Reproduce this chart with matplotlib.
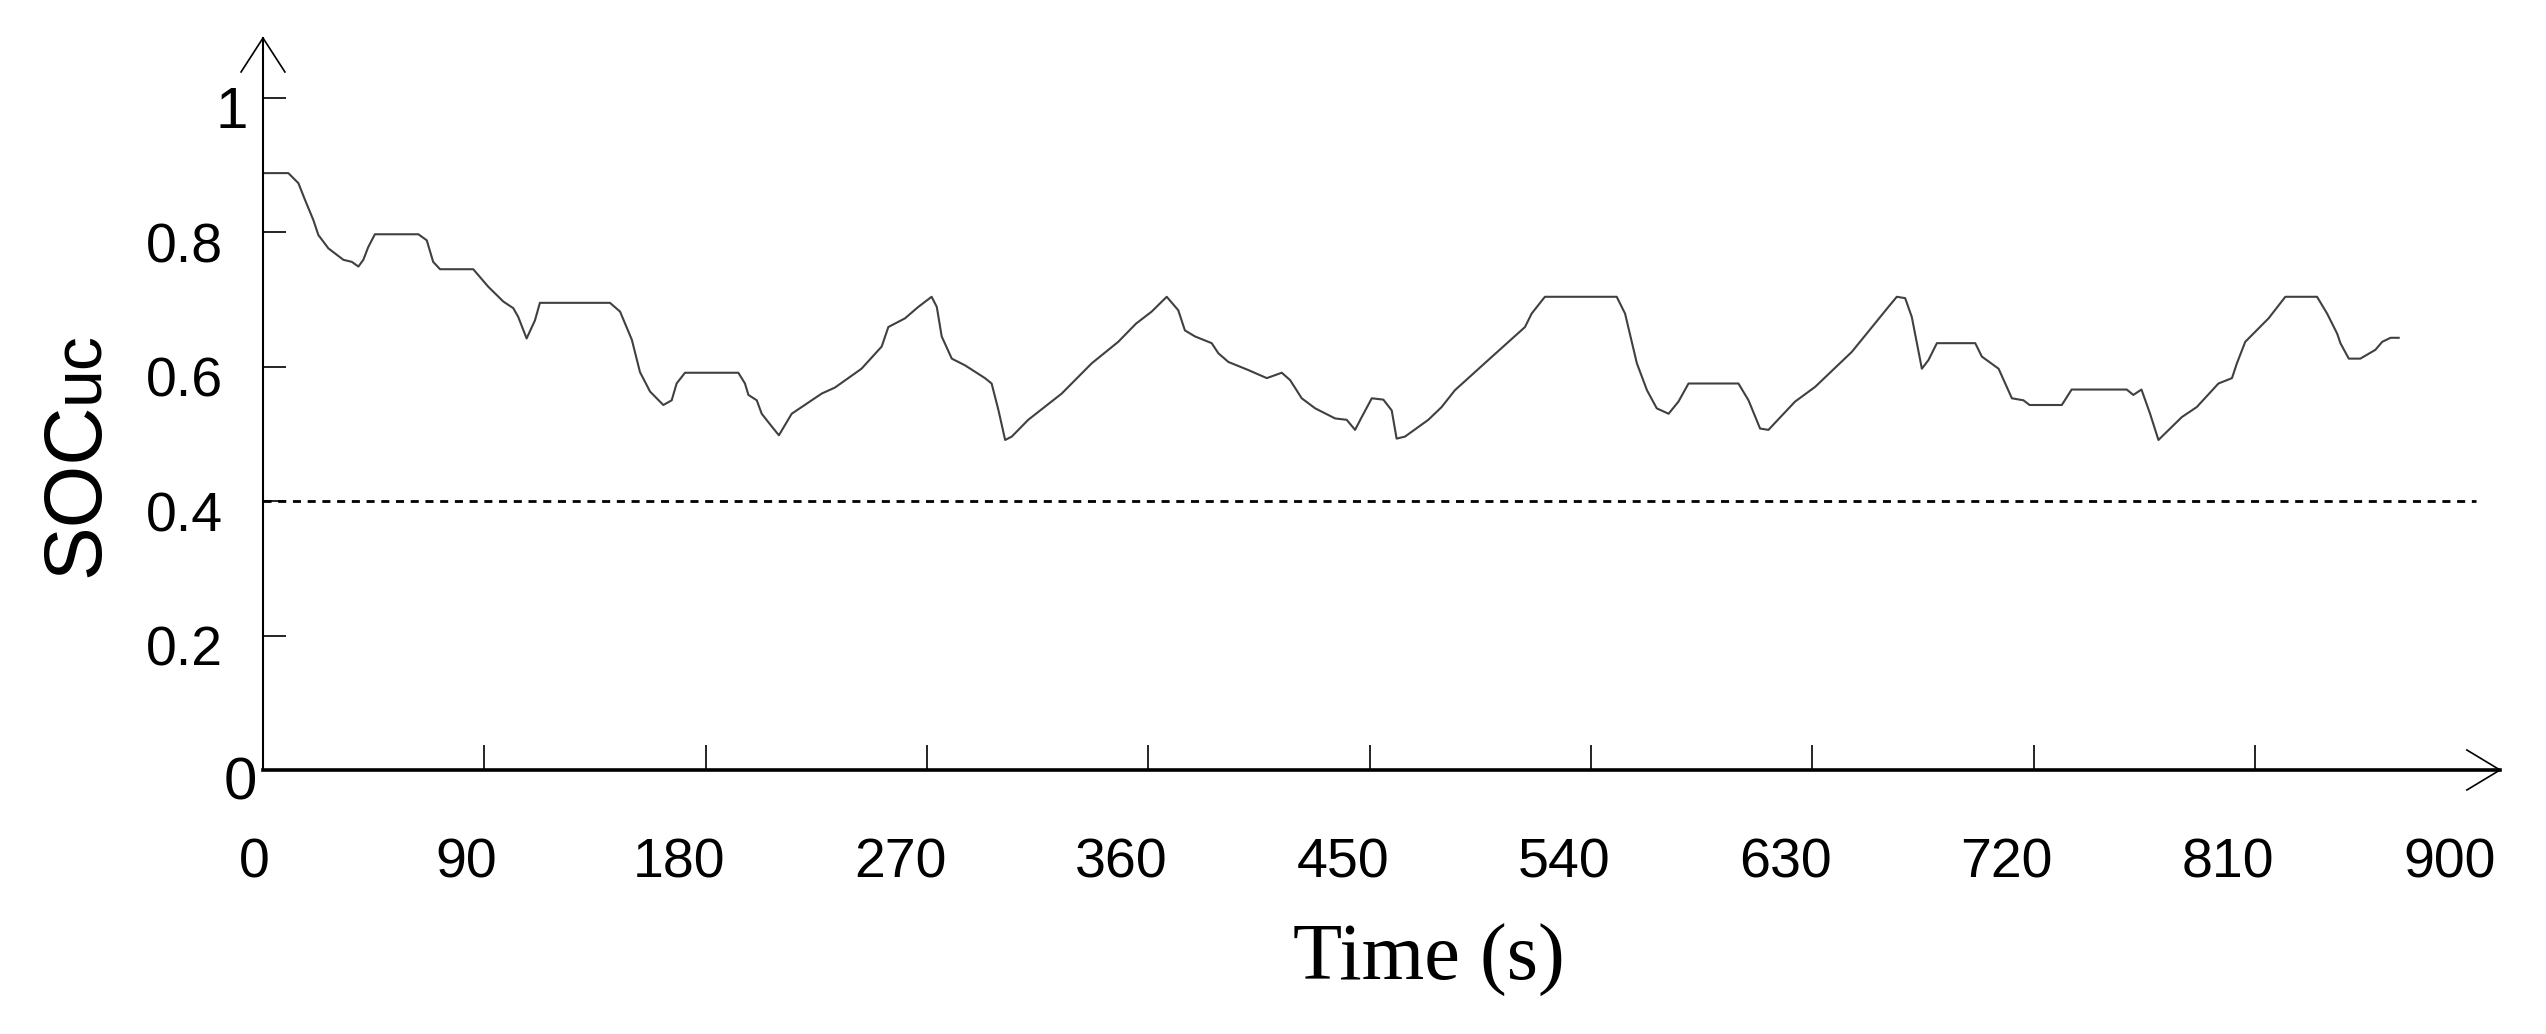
import matplotlib
matplotlib.use("Agg")
import matplotlib.pyplot as plt
from matplotlib.transforms import offset_copy

# SOC of the ultracapacitor
time_s = [0, 10.3, 14.4, 17.1, 20.5, 22.5, 26.6, 32.7, 36.1, 38.8, 40.8, 42.8, 45.5,
          63.2, 66.6, 69.2, 72.0, 85.5, 91.6, 97.7, 101.8, 103.8, 107.2, 110.6, 112.6,
          141.1, 145.2, 150.0, 153.3, 157.4, 162.8, 166.2, 168.2, 171.6, 193.3, 196.0,
          197.4, 200.8, 202.8, 206.9, 209.8, 215.0, 227.2, 232.6, 238.0, 243.4, 251.6,
          254.3, 261.1, 266.5, 271.9, 274.0, 276.0, 280.1, 285.5, 293.6, 296.3, 299.1,
          301.8, 304.5, 311.2, 324.8, 337.0, 347.8, 355.0, 361.4, 367.5, 372.2, 374.9,
          379.0, 385.8, 388.5, 392.6, 400.7, 408.2, 414.3, 417.7, 422.4, 427.9, 436.0,
          440.7, 444.1, 446.8, 450.9, 455.6, 459.0, 461.0, 464.4, 473.9, 479.3, 484.7,
          498.3, 513.2, 515.9, 521.3, 550.5, 553.9, 558.7, 562.8, 566.8, 571.6, 575.6,
          579.7, 600.0, 604.1, 608.8, 612.2, 623.0, 631.2, 646.1, 661.0, 664.4, 667.8,
          670.5, 674.6, 677.3, 680.7, 696.3, 699.0, 705.8, 708.5, 711.2, 715.9, 718.4,
          731.5, 735.5, 757.9, 760.6, 763.9, 767.4, 770.8, 780.3, 786.4, 795.2, 800.7,
          802.7, 806.1, 815.6, 822.4, 835.3, 839.4, 843.5, 844.8, 848.2, 852.9, 859.0,
          861.8, 865.2, 868.5]
soc_uc = [0.888, 0.888, 0.873, 0.848, 0.818, 0.796, 0.776, 0.759, 0.756, 0.749, 0.759,
          0.778, 0.797, 0.797, 0.788, 0.756, 0.745, 0.745, 0.719, 0.697, 0.687, 0.674,
          0.642, 0.669, 0.695, 0.695, 0.682, 0.640, 0.592, 0.563, 0.543, 0.550, 0.575,
          0.591, 0.591, 0.575, 0.558, 0.550, 0.530, 0.511, 0.498, 0.530, 0.560, 0.569,
          0.583, 0.597, 0.630, 0.659, 0.672, 0.689, 0.704, 0.689, 0.645, 0.612, 0.602,
          0.583, 0.575, 0.535, 0.491, 0.496, 0.521, 0.560, 0.605, 0.637, 0.664, 0.682,
          0.704, 0.684, 0.654, 0.645, 0.635, 0.620, 0.607, 0.595, 0.583, 0.591, 0.580,
          0.553, 0.538, 0.523, 0.521, 0.506, 0.525, 0.553, 0.551, 0.535, 0.493, 0.496,
          0.521, 0.540, 0.565, 0.610, 0.659, 0.679, 0.704, 0.704, 0.679, 0.605, 0.565,
          0.538, 0.530, 0.548, 0.575, 0.575, 0.550, 0.508, 0.506, 0.548, 0.570, 0.622,
          0.689, 0.704, 0.702, 0.674, 0.597, 0.610, 0.635, 0.635, 0.615, 0.597, 0.575,
          0.553, 0.550, 0.543, 0.543, 0.566, 0.566, 0.558, 0.566, 0.530, 0.491, 0.525,
          0.540, 0.575, 0.583, 0.605, 0.637, 0.672, 0.704, 0.704, 0.679, 0.649, 0.635,
          0.612, 0.612, 0.625, 0.637, 0.643, 0.643]

soc_min = 0.4
x_tick_values = [0, 90, 180, 270, 360, 450, 540, 630, 720, 810, 900]
x_tick_labels = ["0", "90", "180", "270", "360", "450", "540", "630", "720", "810", "900"]
y_tick_values = [0, 0.2, 0.4, 0.6, 0.8, 1]
y_tick_labels = ["0", "0.2", "0.4", "0.6", "0.8", "1"]

W, H = 2546, 1034
fig = plt.figure(figsize=(W / 100, H / 100), dpi=100)
# axes box: x 263..2500 px, y 38..770 px
ax = fig.add_axes([263 / W, 1 - 770 / H, (2500 - 263) / W, (770 - 38) / H])

ax.plot(time_s, soc_uc, color="#404040", lw=1.5)
ax.hlines(soc_min, 0, 900, colors="black", lw=2.0, linestyles=(0, (2.9, 2.4)))

ax.set_xlim(0, 909.7)
ax.set_ylim(0, 1.089)

for side in ["top", "right"]:
    ax.spines[side].set_visible(False)
ax.spines["left"].set_linewidth(1.5)
ax.spines["bottom"].set_linewidth(2.6)

ax.set_xticks(x_tick_values[1:-1])
ax.set_yticks(y_tick_values[1:])
ax.tick_params(axis="x", direction="in", length=18, width=1.2, labelbottom=False)
ax.tick_params(axis="y", direction="in", length=16.5, width=1.2, labelleft=False)

# arrowheads
ax.plot([-0.0098, 0, 0.0098], [1 - 0.0464, 1, 1 - 0.0464], transform=ax.transAxes,
        color="black", lw=1.2, clip_on=False)
ax.plot([1 - 0.0148, 1, 1 - 0.0148], [0.0273, 0, -0.0273], transform=ax.transAxes,
        color="black", lw=1.2, clip_on=False)

sans = "Liberation Sans"
for v, s in zip(x_tick_values, x_tick_labels):
    tr = offset_copy(ax.get_xaxis_transform(), fig=fig, x=-9 * len(s), y=-108, units="dots")
    ax.text(v, 0, s, transform=tr, ha="center", va="baseline", fontsize=40, family=sans)

for v, s in zip(y_tick_values, y_tick_labels):
    dx, size = -40, 40
    if s == "1":
        dx, size = -15, 42
    elif s == "0":
        dx, size = -6, 43
    tr = offset_copy(ax.get_yaxis_transform(), fig=fig, x=dx, y=-30, units="dots")
    ax.text(0, v, s, transform=tr, ha="right", va="baseline", fontsize=size, family=sans)

# y label: SOC with smaller "uc"
soc = fig.text(98 / W, 1 - 577 / H, "SOC", rotation=90, rotation_mode="anchor",
               ha="left", va="baseline", fontsize=58, family=sans)
fig.canvas.draw()
bb = soc.get_window_extent()
fig.text(98 / W, bb.y1 / H, "uc", rotation=90, rotation_mode="anchor",
         ha="left", va="baseline", fontsize=49, family=sans)

fig.text(1429 / W, 1 - 980 / H, "Time (s)", ha="center", va="baseline",
         fontsize=58, family="Liberation Serif")

fig.savefig("out.png", dpi=100, facecolor="white")
